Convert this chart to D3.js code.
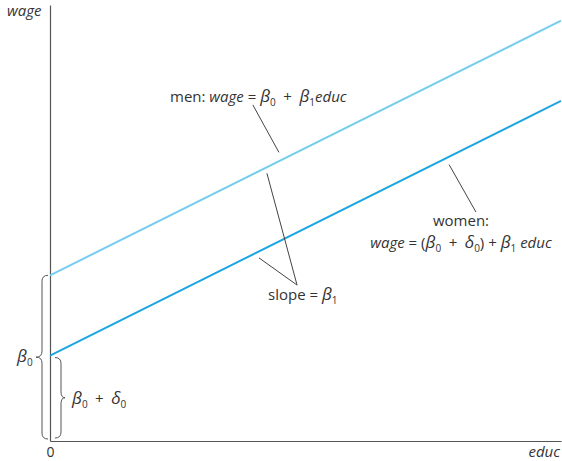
<!DOCTYPE html>
<html>
<head>
<meta charset="utf-8">
<script src="https://cdn.jsdelivr.net/npm/d3@7"></script>
<style>
  body { margin: 0; background: #fff; }
  svg { display: block; }
  text { font-family: "Open Sans", "Noto Sans", sans-serif; fill: #333; }
</style>
</head>
<body>
<div class="chart"></div>
<script>
// data (arbitrary units)
const educ = [0, 20];
const menWage = [9.5, 24.1];
const womenWage = [4.9, 19.5];
const xTicks = [0];

const width = 562, height = 461;
const margin = ({top: 5, right: 1, bottom: 20, left: 50});

const svg = d3.select('.chart')
    .append('svg')
    .attr('width', width)
    .attr('height', height);

const xScale = d3.scaleLinear()
    .domain([0, 20])
    .range([margin.left, width - margin.right]);

const yScale = d3.scaleLinear()
    .domain([0, 25])
    .range([height - margin.bottom, margin.top]);

const line = d3.line()
    .x(d => xScale(d[0]))
    .y(d => yScale(d[1]));

// axes
svg.append('g')
    .attr('transform', `translate(0,${yScale(0)})`)
    .call(d3.axisBottom(xScale).tickValues(xTicks).tickSize(0).tickPadding(6))
    .call(g => g.select('.domain').attr('stroke', '#555').attr('stroke-width', 1.2))
    .call(g => g.selectAll('.tick text').attr('font-size', 14).attr('fill', '#333')
        .attr('font-family', '"Open Sans", sans-serif'));

svg.append('g')
    .attr('transform', `translate(${xScale(0)},0)`)
    .call(d3.axisLeft(yScale).tickValues([]).tickSizeOuter(0))
    .call(g => g.select('.domain').attr('stroke', '#555').attr('stroke-width', 1.2));

svg.append('text')
    .attr('x', 7).attr('y', 16)
    .attr('font-size', 15).attr('font-style', 'italic')
    .text('wage');

svg.append('text')
    .attr('x', width - 2).attr('y', 457)
    .attr('text-anchor', 'end')
    .attr('font-size', 15).attr('font-style', 'italic')
    .text('educ');

// regression lines
svg.append('path')
    .datum(d3.zip(educ, menWage))
    .attr('fill', 'none')
    .attr('stroke', '#74cdef')
    .attr('stroke-width', 2)
    .attr('d', line);

svg.append('path')
    .datum(d3.zip(educ, womenWage))
    .attr('fill', 'none')
    .attr('stroke', '#1ca6e1')
    .attr('stroke-width', 2)
    .attr('d', line);

// leader lines (data coords)
const leaders = [
    [[7.94, 19.27], [8.96, 16.55]],
    [[8.49, 15.35], [9.67, 8.94]],
    [[8.18, 10.5], [9.67, 8.94]],
    [[15.62, 15.85], [16.67, 13.13]]
];
svg.append('g')
    .selectAll('path')
    .data(leaders)
    .join('path')
    .attr('fill', 'none')
    .attr('stroke', '#444')
    .attr('stroke-width', 1)
    .attr('d', line);

// braces
function brace(x, y1, y2, d, e) {
    const ym = (y1 + y2) / 2, r = 6;
    return `M${x + e},${y1} Q${x},${y1} ${x},${y1 + r} L${x},${ym - r}` +
        ` Q${x},${ym} ${x - d},${ym} Q${x},${ym} ${x},${ym + r}` +
        ` L${x},${y2 - r} Q${x},${y2} ${x + e},${y2}`;
}
const x0 = xScale(0);
svg.append('path')
    .attr('d', brace(x0 - 8, yScale(menWage[0]), yScale(0) - 2, 6, 6))
    .attr('fill', 'none').attr('stroke', '#555').attr('stroke-width', 1);
svg.append('path')
    .attr('d', brace(x0 + 11, yScale(womenWage[0]) + 2, yScale(0) - 3, -4, -6))
    .attr('fill', 'none').attr('stroke', '#555').attr('stroke-width', 1);

// rich text helper: parts are [text, style], style: i italic, b greek, s subscript
function rich(x, y, parts, anchor) {
    const t = svg.append('text')
        .attr('x', x).attr('y', y)
        .attr('font-size', 15)
        .attr('text-anchor', anchor || 'start');
    let shifted = false;
    parts.forEach(([s, st]) => {
        const sp = t.append('tspan').text(s);
        if (st === 'i') sp.attr('font-style', 'italic');
        if (st === 'b') sp.attr('font-style', 'italic').attr('font-weight', 500).attr('font-size', 17);
        if (st === 's') {
            sp.attr('font-size', 10).attr('dy', 4);
            shifted = true;
        } else if (shifted) {
            sp.attr('dy', -4);
            shifted = false;
        }
    });
    return t;
}

const plus = '\u2002+\u2002';

rich(170, 102, [['men: ', ''], ['wage', 'i'], [' = ', ''], ['β', 'b'], ['0', 's'],
    [plus, ''], ['β', 'b'], ['1', 's'], ['educ', 'i']]);

rich(461, 226, [['women:', '']], 'middle');
rich(461, 248, [['wage', 'i'], [' = (', ''], ['β', 'b'], ['0', 's'], [plus, ''],
    ['δ', 'b'], ['0', 's'], [') + ', ''], ['β', 'b'], ['1', 's'], [' educ', 'i']], 'middle');

rich(268, 300, [['slope = ', ''], ['β', 'b'], ['1', 's']]);

rich(17, 362, [['β', 'b'], ['0', 's']]);
rich(72, 404, [['β', 'b'], ['0', 's'], [plus, ''], ['δ', 'b'], ['0', 's']]);
</script>
</body>
</html>
